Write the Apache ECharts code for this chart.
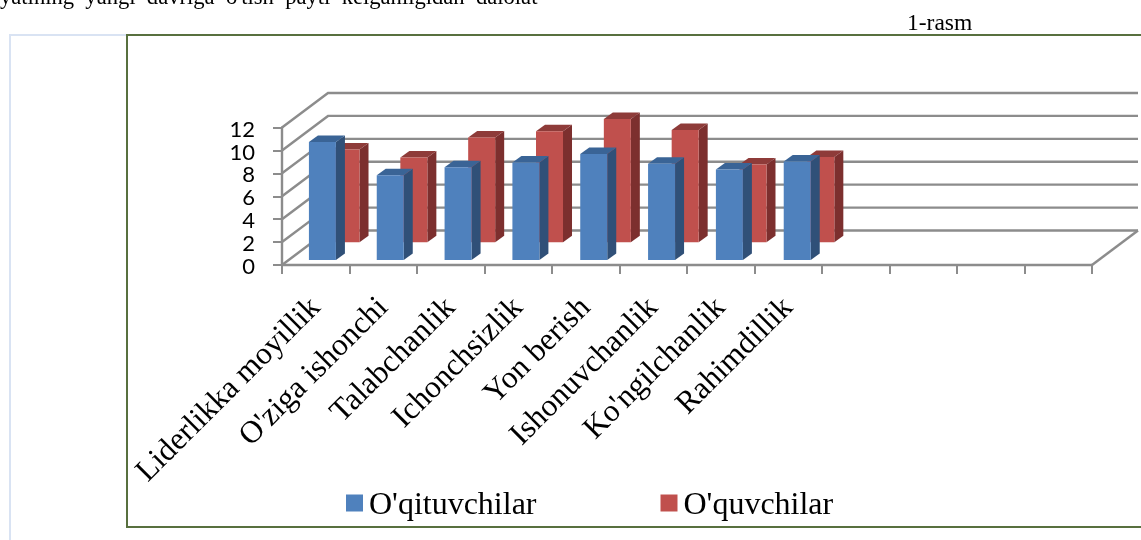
<!DOCTYPE html>
<html>
<head>
<meta charset="utf-8">
<style>html,body{margin:0;padding:0;background:#fff;overflow:hidden}#c{width:1141px;height:540px}</style>
<script src="https://cdn.jsdelivr.net/npm/echarts@6/dist/echarts.min.js"></script>
</head>
<body>
<div id="c"></div>
<script>
const categories = ["Liderlikka moyillik","O'ziga ishonchi","Talabchanlik","Ichonchsizlik","Yon berish","Ishonuvchanlik","Ko'ngilchanlik","Rahimdillik","","","",""];
const teachers = [10.3, 7.4, 8.1, 8.5, 9.25, 8.4, 7.9, 8.6];
const students = [8.1, 7.4, 9.15, 9.7, 10.75, 9.8, 6.8, 7.45];
const yTicks = [0, 2, 4, 6, 8, 10, 12];
const seriesNames = ["O'qituvchilar", "O'quvchilar"];

const DEPTH_X = 46, DEPTH_Y = 34.5, BAR_W = 27, SIDE_X = 9, SIDE_Y = 6.5, DRIFT = 0.33;
const GRID_COL = '#8c8c8c';

function prism(frac, front, top, side) {
  return function (params, api) {
    const i = api.value(0), v = api.value(1);
    const b = api.coord([i, 0]), t = api.coord([i, v]);
    const cx = b[0] + DEPTH_X * frac + DRIFT * i;
    const by = b[1] - DEPTH_Y * frac, ty = t[1] - DEPTH_Y * frac;
    const l = cx - BAR_W / 2, r = cx + BAR_W / 2;
    const poly = (pts, fill) => ({ type: 'polygon', shape: { points: pts }, style: { fill: fill, stroke: null } });
    return {
      type: 'group',
      children: [
        poly([[r, ty], [r + SIDE_X, ty - SIDE_Y], [r + SIDE_X, by - SIDE_Y], [r, by]], side),
        poly([[l, ty], [l + SIDE_X, ty - SIDE_Y], [r + SIDE_X, ty - SIDE_Y], [r, ty]], top),
        poly([[l, ty], [r, ty], [r, by], [l, by]], front)
      ]
    };
  };
}

function wall(params, api) {
  const v = api.value(1);
  const w = api.size([1, 0])[0];
  const p = api.coord([0, v]);
  const xl = p[0] - w / 2;
  const xr = api.coord([categories.length - 1, v])[0] + w / 2;
  const y = p[1];
  const st = { stroke: GRID_COL, lineWidth: 2.4, fill: null };
  const children = [{
    type: 'polyline',
    shape: { points: [[xl, y], [xl + DEPTH_X, y - DEPTH_Y], [xr + DEPTH_X, y - DEPTH_Y]] },
    style: st
  }];
  if (v === 0) {
    children.push({ type: 'line', shape: { x1: xr, y1: y, x2: xr + DEPTH_X, y2: y - DEPTH_Y }, style: st });
  }
  return { type: 'group', children };
}

const chart = echarts.init(document.getElementById('c'), null, { renderer: 'canvas' });
const serif = '"Liberation Serif", "Times New Roman", serif';
chart.setOption({
  animation: false,
  backgroundColor: '#ffffff',
  grid: { left: 282, top: 127.5, width: 810, height: 137.5 },
  legend: {
    left: 341, top: 485, itemWidth: 17, itemHeight: 17, itemGap: 124,
    icon: 'rect', data: seriesNames,
    selectedMode: false,
    formatter: n => `{a|${n}}`,
    textStyle: { rich: { a: { fontFamily: serif, fontSize: 32, color: '#000', padding: [6, 0, 0, 1] } } }
  },
  xAxis: {
    type: 'category', data: categories, boundaryGap: true,
    axisLine: { lineStyle: { color: GRID_COL, width: 2.4 } },
    axisTick: { show: true, alignWithLabel: false, interval: 0, length: 9, lineStyle: { color: GRID_COL, width: 2 } },
    axisLabel: { interval: 0, rotate: 45, margin: 38, fontFamily: serif, fontSize: 31.5, color: '#000', hideOverlap: false },
    splitLine: { show: false }
  },
  yAxis: {
    type: 'value', min: 0, max: 12, interval: 2,
    axisLine: { show: true, lineStyle: { color: GRID_COL, width: 2.4 } },
    axisTick: { show: true, length: 9, lineStyle: { color: GRID_COL, width: 2 } },
    axisLabel: {
      margin: 27, formatter: v => `{a|${v}}`,
      rich: { a: { fontFamily: 'Lato', fontSize: 22, color: '#000', padding: [4, 0, 0, 0] } }
    },
    splitLine: { show: false }
  },
  graphic: [
    { type: 'polyline', silent: true, z: 1, shape: { points: [[10, 540], [10, 35], [127, 35]] }, style: { stroke: '#d9e3f3', lineWidth: 2, fill: null } },
    { type: 'rect', silent: true, z: 1, shape: { x: 127, y: 35, width: 1030, height: 492 }, style: { stroke: '#58703f', lineWidth: 2, fill: null } },
    { type: 'text', silent: true, z: 5, style: { x: 0, y: -13, text: "yatining  yangi  davriga  o'tish  payti  kelganligidan  dalolat", font: '22.6px ' + serif, fill: '#000' } },
    { type: 'text', silent: true, z: 5, style: { x: 907, y: 12, text: '1-rasm', font: '23.5px ' + serif, fill: '#000' } }
  ],
  series: [
    { type: 'custom', coordinateSystem: 'cartesian2d', clip: false, silent: true, z: 2,
      data: yTicks.map(v => [0, v]), renderItem: wall },
    { type: 'custom', name: seriesNames[1], coordinateSystem: 'cartesian2d', clip: false, silent: true, z: 3,
      itemStyle: { color: '#c0504d' },
      data: students.map((v, i) => [i, v]),
      renderItem: prism(0.658, '#c0504d', '#8e3b39', '#7c2f2e') },
    { type: 'custom', name: seriesNames[0], coordinateSystem: 'cartesian2d', clip: false, silent: true, z: 4,
      itemStyle: { color: '#4f81bd' },
      data: teachers.map((v, i) => [i, v]),
      renderItem: prism(0.145, '#4f81bd', '#3a6496', '#305078') }
  ]
});
</script>
</body>
</html>
